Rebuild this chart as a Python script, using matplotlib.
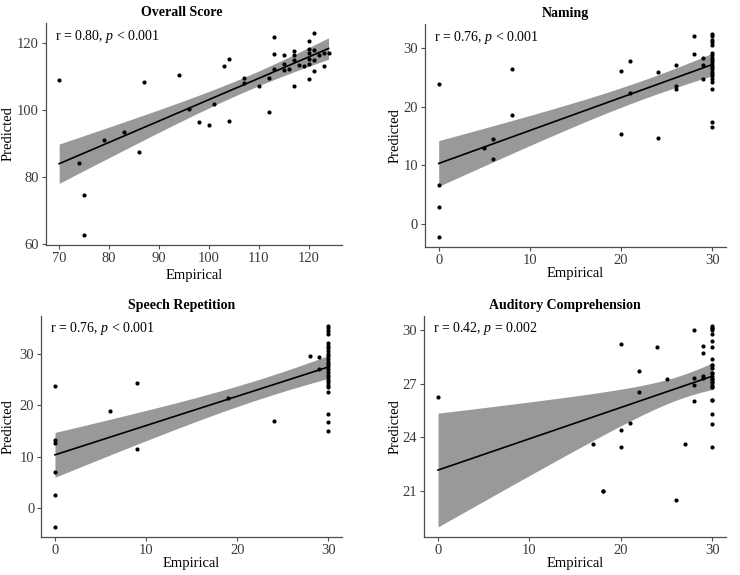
import numpy as np
import matplotlib
matplotlib.use("Agg")
import matplotlib.pyplot as plt

plt.rcParams["font.family"] = ["Liberation Serif", "DejaVu Serif"]
plt.rcParams["mathtext.fontset"] = "custom"
plt.rcParams["mathtext.rm"] = "Liberation Serif"
plt.rcParams["mathtext.it"] = "Liberation Serif:italic"

# ---- data (some points are overplotted) ----
overall_emp = [70, 74, 75, 75, 79, 83, 86, 87, 94, 96, 98, 100, 101, 103, 104, 104,
               107, 107, 110, 112, 112, 113, 113, 113, 115, 115, 115, 116, 117, 117,
               117, 117, 118, 119, 120, 120, 120, 120, 120, 120, 121, 121, 121, 121,
               122, 123, 123, 124]
overall_pred = [109.1, 84.3, 74.7, 62.8, 91.0, 93.6, 87.4, 108.5, 110.5, 100.3, 96.5,
                95.7, 101.9, 113.1, 115.3, 96.8, 109.7, 108.1, 107.3, 109.5, 99.5,
                121.8, 116.8, 112.4, 116.6, 113.8, 112.0, 112.4, 117.8, 116.4, 115.1,
                107.3, 113.5, 113.3, 120.7, 118.2, 117.2, 115.3, 113.9, 109.4, 123.0,
                118.0, 115.0, 111.6, 116.5, 113.1, 117.2, 117.1]

naming_emp = [0, 0, 0, 0, 5, 6, 6, 8, 8, 20, 20, 21, 21, 24, 24, 26, 26, 26, 28, 28,
              29, 29, 29] + [30] * 21
naming_pred = [23.8, 6.7, 2.9, -2.2, 13.0, 14.5, 11.0, 26.5, 18.5, 26.1, 15.3, 27.8,
               22.3, 26.0, 14.7, 27.1, 23.6, 23.1, 32.1, 29.0, 28.4, 27.1, 24.8,
               32.4, 32.1, 31.4, 31.0, 30.6, 29.1, 28.8, 28.4, 28.0, 27.6, 27.2, 26.8,
               26.4, 26.0, 25.6, 25.2, 24.7, 24.3, 23.0, 17.3, 16.5]

speech_emp = [0, 0, 0, 0, 0, 0, 6, 9, 9, 19, 24, 28, 29, 29] + [30] * 26
speech_pred = [23.8, 13.3, 12.7, 7.1, 2.6, -3.7, 19.0, 24.3, 11.5, 21.5, 17.0, 29.6,
               29.4, 27.1,
               35.5, 35.1, 34.5, 33.9, 32.1, 31.6, 31.1, 30.6, 30.1, 29.6, 29.0, 28.5,
               28.0, 27.6, 27.0, 26.5, 26.0, 25.5, 25.0, 24.5, 24.0, 23.5, 22.6, 18.3,
               16.7, 15.0]

audit_emp = [0, 17, 18, 18, 20, 20, 20, 21, 22, 22, 24, 25, 26, 27, 28, 28, 28, 28,
             29, 29, 29, 29] + [30] * 26
audit_pred = [26.26, 23.6, 21.0, 21.0, 29.18, 24.4, 23.45, 24.8, 27.7, 26.5, 29.05,
              27.27, 20.5, 23.6, 30.0, 27.3, 26.9, 26.0, 29.1, 28.7, 27.4, 27.3,
              30.22, 30.09, 29.96, 29.76, 29.35, 29.01, 28.38, 28.03, 27.88, 27.56,
              27.43, 27.25, 27.06, 26.93, 26.78, 26.10, 25.28, 24.72, 23.45,
              30.09, 28.03, 27.56, 27.25, 27.06, 26.78, 26.10]

titles = ["Overall Score", "Naming", "Speech Repetition", "Auditory Comprehension"]
stats = [r"r = 0.80, $p$ < 0.001", r"r = 0.76, $p$ < 0.001",
         r"r = 0.76, $p$ < 0.001", r"r = 0.42, $p$ = 0.002"]
xticks = [[70, 80, 90, 100, 110, 120], [0, 10, 20, 30], [0, 10, 20, 30], [0, 10, 20, 30]]
yticks = [[60, 80, 100, 120], [0, 10, 20, 30], [0, 10, 20, 30], [21, 24, 27, 30]]
panels = [(overall_emp, overall_pred), (naming_emp, naming_pred),
          (speech_emp, speech_pred), (audit_emp, audit_pred)]


def lm_band(x, y):
    """OLS fit with 95% confidence band, like geom_smooth(method='lm')."""
    x = np.asarray(x, float)
    y = np.asarray(y, float)
    n = len(x)
    b1, b0 = np.polyfit(x, y, 1)
    xs = np.linspace(x.min(), x.max(), 100)
    fit = b0 + b1 * xs
    s = np.sqrt(np.sum((y - (b0 + b1 * x)) ** 2) / (n - 2))
    se = s * np.sqrt(1 / n + (xs - x.mean()) ** 2 / np.sum((x - x.mean()) ** 2))
    t = 1.96 + 2.4 / (n - 2)
    return xs, fit, fit - t * se, fit + t * se


W, H = 740, 575
fig = plt.figure(figsize=(7.4, 5.75), dpi=100)

# axes boxes in pixels: left, right, top, bottom
boxes = [(45.7, 342, 23, 245), (425, 726, 24, 246.7),
         (41.3, 342, 315.7, 537.3), (424.3, 726, 315.7, 537)]
title_pos = [(182, 13), (565, 13), (182, 305), (565, 305)]
ylab_x = [8.3, 395, 8.3, 395]
xlab_y = [275, 274, 563, 563]

axis_col = "#4D4D4D"

for i, (emp, pred) in enumerate(panels):
    l, r, t, b = boxes[i]
    ax = fig.add_axes([l / W, 1 - b / H, (r - l) / W, (b - t) / H])
    xs, fit, lo, hi = lm_band(emp, pred)
    ax.fill_between(xs, lo, hi, color="#999999", lw=0, zorder=1)
    ax.plot(xs, fit, color="black", lw=1.2, zorder=2)
    ax.scatter(emp, pred, s=9, color="black", zorder=3, linewidths=0)

    ax.set_xticks(xticks[i])
    ax.set_yticks(yticks[i])
    for side in ["top", "right"]:
        ax.spines[side].set_visible(False)
    for side in ["left", "bottom"]:
        ax.spines[side].set_color(axis_col)
        ax.spines[side].set_linewidth(0.9)
    ax.tick_params(colors=axis_col, labelcolor="#3A3A3A", labelsize=10.5,
                   length=3, width=0.8, pad=2)

    ax.text(0.03, 0.94, stats[i], transform=ax.transAxes, fontsize=10,
            ha="left", va="center")

    ax.set_xlabel("Empirical", fontsize=10.5)
    ax.set_ylabel("Predicted", fontsize=10.5)
    ax.xaxis.set_label_coords(0.5, (b - xlab_y[i]) / (b - t))
    ax.xaxis.label.set_va("center")
    ax.yaxis.set_label_coords((ylab_x[i] - l) / (r - l), 0.5)
    ax.yaxis.label.set_va("center")

    tx, ty = title_pos[i]
    fig.text(tx / W, 1 - ty / H, titles[i], fontsize=10, fontweight="bold",
             ha="center", va="center")

fig.savefig("out.png", dpi=100)
